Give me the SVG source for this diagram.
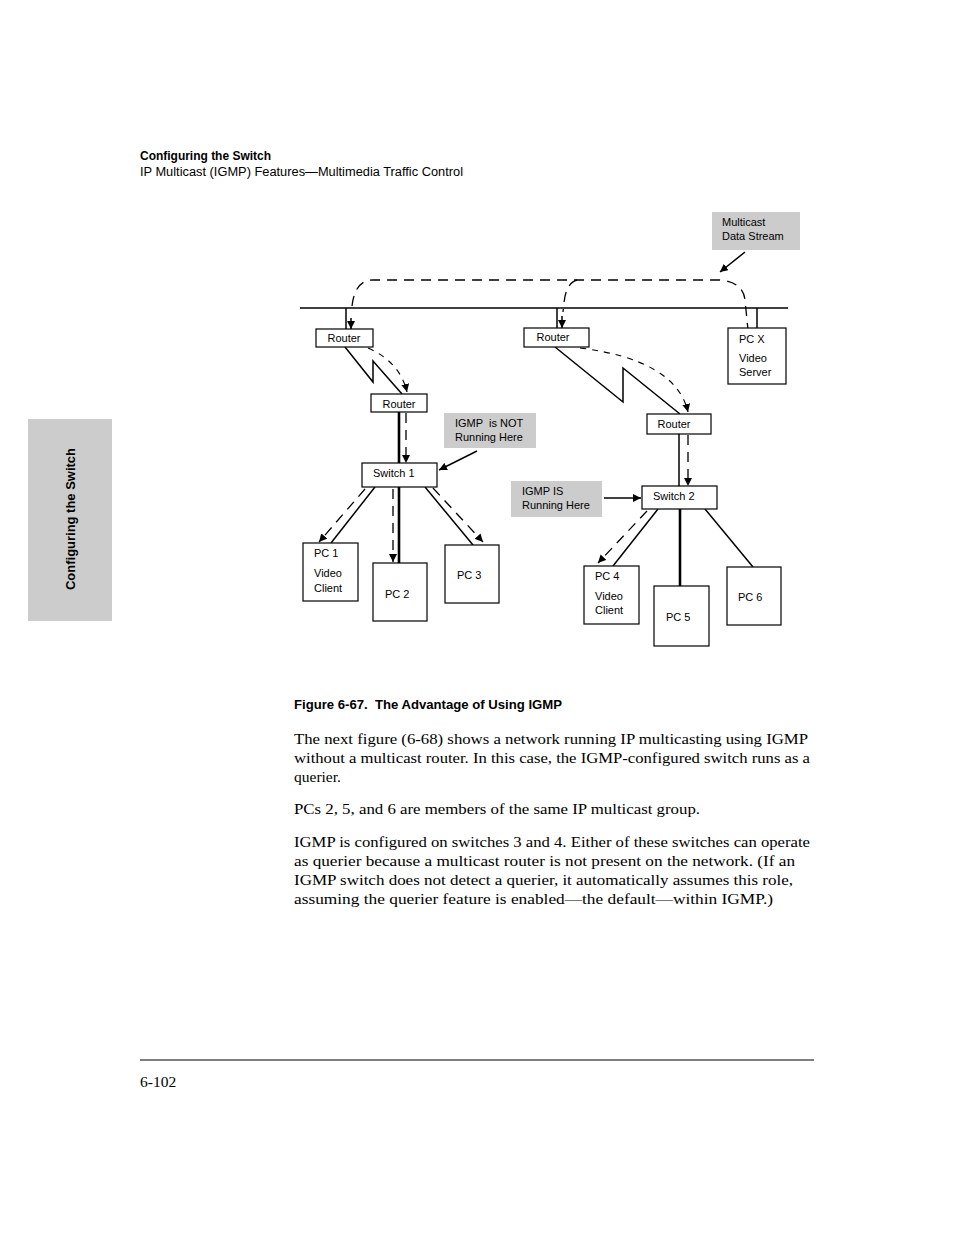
<svg xmlns="http://www.w3.org/2000/svg" width="954" height="1235" viewBox="0 0 954 1235">
<style>
.lbl{font-family:"Liberation Sans Narrow","Liberation Sans",Arial,sans-serif;font-size:11px;fill:#000;white-space:pre}
.box{fill:#fff;stroke:#000;stroke-width:1.2}
.note{fill:#cccccc;stroke:none}
.ln{stroke:#000;stroke-width:1.5;fill:none}
.thick{stroke:#000;stroke-width:2.6;fill:none}
.dash{stroke:#000;stroke-width:1.3;fill:none;stroke-dasharray:10,7}
.dash2{stroke:#000;stroke-width:1.1;fill:none;stroke-dasharray:6,6}
.body{font-family:"Liberation Serif","Times New Roman",serif;font-size:15.5px;fill:#000}
.hd{font-family:"Liberation Sans Narrow","Liberation Sans",Arial,sans-serif;font-size:12.5px;fill:#000;white-space:pre}
</style>
<defs>
<marker id="ah" viewBox="0 0 10 10" refX="10" refY="5" markerWidth="8" markerHeight="8" markerUnits="userSpaceOnUse" orient="auto">
<path d="M0,0 L10,5 L0,10 z" fill="#000"/>
</marker>
</defs>
<rect width="954" height="1235" fill="#fff"/>

<!-- page header -->
<g id="header">
<text class="hd" x="140" y="160" font-weight="bold" textLength="131" lengthAdjust="spacingAndGlyphs">Configuring the Switch</text>
<text class="hd" x="140" y="176" textLength="323" lengthAdjust="spacingAndGlyphs">IP Multicast (IGMP) Features—Multimedia Traffic Control</text>
</g>

<!-- side tab -->
<g id="sidetab">
<rect x="28" y="419" width="84" height="202" fill="#cccccc"/>
<text class="hd" transform="translate(75,519) rotate(-90)" text-anchor="middle" font-weight="bold" textLength="142" lengthAdjust="spacingAndGlyphs">Configuring the Switch</text>
</g>

<!-- connectors -->
<g id="connectors">
<line class="ln" x1="300" y1="308" x2="788" y2="308"/>
<line class="ln" x1="346" y1="308" x2="346" y2="329"/>
<line class="ln" x1="557" y1="308" x2="557" y2="328"/>
<line class="ln" x1="757" y1="308" x2="757" y2="328"/>
<!-- multicast dashed stream -->
<path class="dash" d="M352,306 Q355,280 373,280 L720,280 Q743,282 745,300 L748,330"/>
<line class="ln" x1="351" y1="318" x2="351" y2="329" marker-end="url(#ah)"/>
<path class="dash" d="M577,280 Q566,283 564,303 L563,312"/>
<line class="ln" x1="562" y1="316" x2="562" y2="328" marker-end="url(#ah)"/>
<!-- data stream note arrow -->
<line class="ln" x1="745" y1="252" x2="720" y2="272" marker-end="url(#ah)"/>
<!-- left WAN zigzag -->
<polyline class="ln" points="345,347 373,382 373,361 402,394"/>
<path class="dash2" d="M368,348 Q400,362 407,392" marker-end="url(#ah)"/>
<!-- right WAN zigzag -->
<polyline class="ln" points="555,347 623,402 623,368 680,414"/>
<path class="dash2" d="M580,348 Q676,360 688,412" marker-end="url(#ah)"/>
<!-- router to switch 1 -->
<line class="thick" x1="399" y1="412" x2="399" y2="463"/>
<line class="dash" x1="406" y1="413" x2="406" y2="463" marker-end="url(#ah)"/>
<line class="ln" x1="477" y1="451" x2="439" y2="470" marker-end="url(#ah)"/>
<!-- router to switch 2 -->
<line class="ln" x1="679" y1="434" x2="679" y2="486"/>
<line class="dash" x1="688" y1="435" x2="688" y2="486" marker-end="url(#ah)"/>
<line class="ln" x1="604" y1="498" x2="641" y2="498" marker-end="url(#ah)"/>
<!-- switch 1 to PCs -->
<line class="ln" x1="375" y1="487" x2="331" y2="543"/>
<line class="dash" x1="365" y1="489" x2="319" y2="542" marker-end="url(#ah)"/>
<line class="thick" x1="399" y1="487" x2="399" y2="564"/>
<line class="dash" x1="393" y1="489" x2="393" y2="562" marker-end="url(#ah)"/>
<line class="ln" x1="425" y1="487" x2="473" y2="545"/>
<line class="dash" x1="433" y1="488" x2="483" y2="542" marker-end="url(#ah)"/>
<!-- switch 2 to PCs -->
<line class="ln" x1="658" y1="509" x2="613" y2="566"/>
<line class="dash" x1="647" y1="511" x2="598" y2="563" marker-end="url(#ah)"/>
<line class="thick" x1="680" y1="509" x2="680" y2="587"/>
<line class="ln" x1="705" y1="509" x2="753" y2="567"/>
</g>

<!-- nodes -->
<g id="note-stream">
<rect class="note" x="712" y="212" width="88" height="38"/>
<text class="lbl" x="722" y="226">Multicast</text>
<text class="lbl" x="722" y="240">Data Stream</text>
</g>
<g id="router1">
<rect class="box" x="316" y="329" width="57" height="18"/>
<text class="lbl" x="344" y="342" text-anchor="middle">Router</text>
</g>
<g id="router2">
<rect class="box" x="524" y="328" width="65" height="19"/>
<text class="lbl" x="553" y="341" text-anchor="middle">Router</text>
</g>
<g id="pcx">
<rect class="box" x="728" y="328" width="58" height="56"/>
<text class="lbl" x="739" y="343">PC X</text>
<text class="lbl" x="739" y="362">Video</text>
<text class="lbl" x="739" y="376">Server</text>
</g>
<g id="router3">
<rect class="box" x="371" y="394" width="56" height="18"/>
<text class="lbl" x="399" y="408" text-anchor="middle">Router</text>
</g>
<g id="router4">
<rect class="box" x="647" y="414" width="64" height="20"/>
<text class="lbl" x="674" y="428" text-anchor="middle">Router</text>
</g>
<g id="note-not">
<rect class="note" x="444" y="413" width="92" height="35"/>
<text class="lbl" x="455" y="427">IGMP  is NOT</text>
<text class="lbl" x="455" y="441">Running Here</text>
</g>
<g id="switch1">
<rect class="box" x="362" y="463" width="75" height="24" stroke-width="2"/>
<text class="lbl" x="373" y="477">Switch 1</text>
</g>
<g id="note-is">
<rect class="note" x="511" y="481" width="91" height="36"/>
<text class="lbl" x="522" y="495">IGMP IS</text>
<text class="lbl" x="522" y="509">Running Here</text>
</g>
<g id="switch2">
<rect class="box" x="642" y="486" width="75" height="23"/>
<text class="lbl" x="653" y="500">Switch 2</text>
</g>
<g id="pc1">
<rect class="box" x="303" y="543" width="55" height="58"/>
<text class="lbl" x="314" y="557">PC 1</text>
<text class="lbl" x="314" y="577">Video</text>
<text class="lbl" x="314" y="592">Client</text>
</g>
<g id="pc2">
<rect class="box" x="373" y="563" width="54" height="58"/>
<text class="lbl" x="385" y="598">PC 2</text>
</g>
<g id="pc3">
<rect class="box" x="445" y="545" width="54" height="58"/>
<text class="lbl" x="457" y="579">PC 3</text>
</g>
<g id="pc4">
<rect class="box" x="584" y="566" width="55" height="58"/>
<text class="lbl" x="595" y="580">PC 4</text>
<text class="lbl" x="595" y="600">Video</text>
<text class="lbl" x="595" y="614">Client</text>
</g>
<g id="pc5">
<rect class="box" x="654" y="586" width="55" height="60"/>
<text class="lbl" x="666" y="621">PC 5</text>
</g>
<g id="pc6">
<rect class="box" x="727" y="567" width="54" height="58"/>
<text class="lbl" x="738" y="601">PC 6</text>
</g>

<!-- caption and body -->
<g id="text">
<text class="hd" x="294" y="709" font-weight="bold" font-size="13" textLength="268" lengthAdjust="spacingAndGlyphs">Figure 6-67.  The Advantage of Using IGMP</text>
<text class="body" x="294" y="744" textLength="514" lengthAdjust="spacingAndGlyphs">The next figure (6-68) shows a network running IP multicasting using IGMP</text>
<text class="body" x="294" y="763" textLength="516" lengthAdjust="spacingAndGlyphs">without a multicast router. In this case, the IGMP-configured switch runs as a</text>
<text class="body" x="294" y="782">querier.</text>
<text class="body" x="294" y="814" textLength="406" lengthAdjust="spacingAndGlyphs">PCs 2, 5, and 6 are members of the same IP multicast group.</text>
<text class="body" x="294" y="847" textLength="516" lengthAdjust="spacingAndGlyphs">IGMP is configured on switches 3 and 4. Either of these switches can operate</text>
<text class="body" x="294" y="866" textLength="501" lengthAdjust="spacingAndGlyphs">as querier because a multicast router is not present on the network. (If an</text>
<text class="body" x="294" y="885" textLength="499" lengthAdjust="spacingAndGlyphs">IGMP switch does not detect a querier, it automatically assumes this role,</text>
<text class="body" x="294" y="904" textLength="479" lengthAdjust="spacingAndGlyphs">assuming the querier feature is enabled—the default—within IGMP.)</text>
</g>

<g id="footer">
<line x1="140" y1="1060" x2="814" y2="1060" stroke="#000" stroke-width="1.2"/>
<text class="body" x="140" y="1087">6-102</text>
</g>
</svg>
